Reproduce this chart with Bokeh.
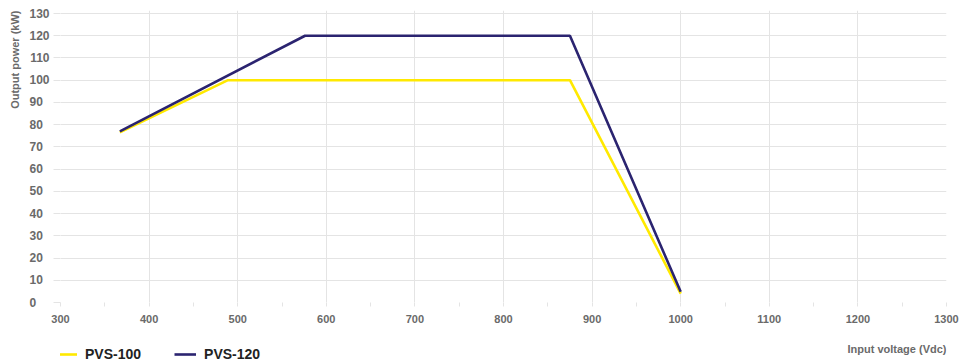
from bokeh.plotting import figure
from bokeh.models import Range1d, FixedTicker, Legend, LegendItem, Title, Label
from bokeh.layouts import column
from bokeh.embed import file_html
from bokeh.resources import INLINE

# ---- data ----
pvs100_v = [367, 489, 875, 1000]
pvs100_kw = [76.5, 100, 100, 4]
pvs120_v = [367, 576, 875, 1000]
pvs120_kw = [77, 120, 120, 4.8]
series_names = ["PVS-100", "PVS-120"]
x_ticks = [300, 400, 500, 600, 700, 800, 900, 1000, 1100, 1200, 1300]
x_minor = [350, 450, 550, 650, 750, 850, 950, 1050, 1150, 1250]
y_ticks = [0, 10, 20, 30, 40, 50, 60, 70, 80, 90, 100, 110, 120, 130]

FONT = "Liberation Sans"
GRID = "#e4e4e4"
TICK_TXT = "#6a6a6a"
C100 = "#FFE900"
C120 = "#2B2470"

p = figure(width=961, height=330, output_backend="svg", toolbar_location=None,
           x_range=Range1d(300, 1300), y_range=Range1d(0, 131.35),
           min_border_left=60, min_border_right=15, min_border_top=10,
           min_border_bottom=28)
p.outline_line_color = None
p.background_fill_color = "white"

r1 = p.line(pvs100_v, pvs100_kw, line_color=C100, line_width=2.6)
r2 = p.line(pvs120_v, pvs120_kw, line_color=C120, line_width=2.6)

xa = p.xaxis[0]
xa.ticker = FixedTicker(ticks=x_ticks, minor_ticks=x_minor)
xa.axis_line_color = None
xa.major_tick_in = 0
xa.major_tick_out = 4
xa.minor_tick_in = 0
xa.minor_tick_out = 4
xa.major_tick_line_color = GRID
xa.minor_tick_line_color = GRID
xa.major_label_standoff = 8
xa.major_label_text_font = FONT
xa.major_label_text_font_size = "11px"
xa.major_label_text_font_style = "bold"
xa.major_label_text_color = TICK_TXT

# y tick labels are left-aligned in the reference: pad with figure spaces
width_max = max(len(str(t)) for t in y_ticks)
ya = p.yaxis[0]
ya.ticker = FixedTicker(ticks=y_ticks)
ya.major_label_overrides = {t: str(t) + "\u2007" * (width_max - len(str(t)))
                            for t in y_ticks}
ya.axis_line_color = None
ya.major_tick_in = 0
ya.major_tick_out = 7
ya.minor_tick_line_color = None
ya.major_tick_line_color = GRID
ya.major_label_standoff = 4
ya.major_label_text_font = FONT
ya.major_label_text_font_size = "12px"
ya.major_label_text_font_style = "bold"
ya.major_label_text_color = TICK_TXT

p.xgrid.grid_line_color = GRID
p.ygrid.grid_line_color = GRID
p.xgrid.ticker = FixedTicker(ticks=x_ticks)
p.ygrid.ticker = FixedTicker(ticks=y_ticks)

ylab = Title(text="Output power (kW)", align="right", text_font=FONT,
             text_font_size="11px", text_font_style="bold", text_color=TICK_TXT,
             standoff=12)
p.add_layout(ylab, "left")

# ---- bottom strip: legend + x-axis title ----
p2 = figure(width=961, height=32, output_backend="svg", toolbar_location=None,
            x_range=p.x_range, y_range=Range1d(0, 32),
            min_border_left=60, min_border_right=15, min_border_top=0,
            min_border_bottom=0, x_axis_location=None, y_axis_location=None)
p2.outline_line_color = None
p2.grid.visible = False

# legend keys: same series, hidden in this strip (only their legend swatch shows)
k1 = p2.line(pvs100_v, pvs100_kw, line_color=C100, line_width=2.6, visible=False)
k2 = p2.line(pvs120_v, pvs120_kw, line_color=C120, line_width=2.6, visible=False)

legend = Legend(items=[LegendItem(label=series_names[0], renderers=[k1]),
                       LegendItem(label=series_names[1], renderers=[k2])],
                orientation="horizontal", location=(-5, 0),
                border_line_color=None, background_fill_alpha=0,
                inactive_fill_alpha=0,
                label_text_font=FONT, label_text_font_size="14px",
                label_text_font_style="bold", label_text_color="#222222",
                glyph_width=22, glyph_height=14, label_height=14,
                label_standoff=8, spacing=33, padding=0, margin=0)
p2.add_layout(legend)

xlab = Label(x=x_ticks[-1], y=14, text="Input voltage (Vdc)", text_align="right",
             text_baseline="middle", text_font=FONT, text_font_size="11px",
             text_font_style="bold", text_color=TICK_TXT)
p2.add_layout(xlab)

layout = column(p, p2, spacing=0)
open("out.html", "w").write(file_html(layout, INLINE))
